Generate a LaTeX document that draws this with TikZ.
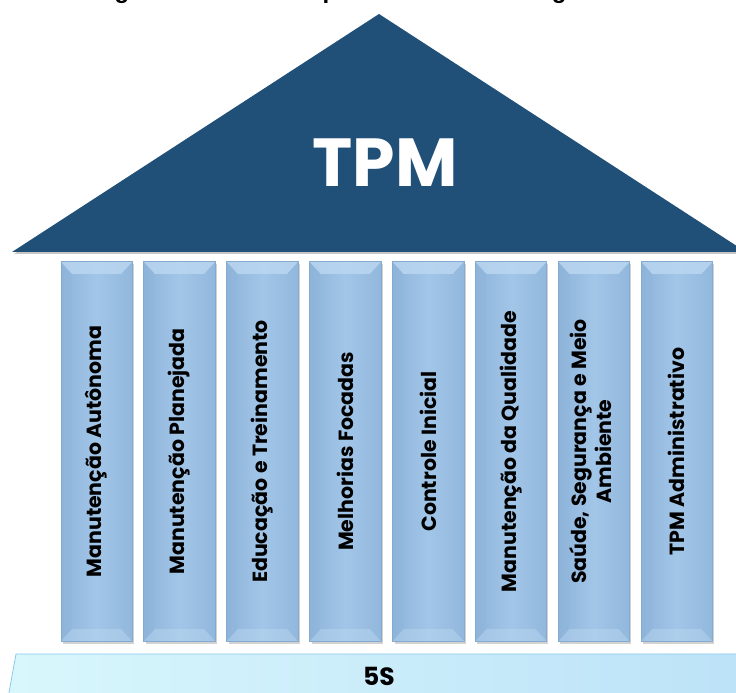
\documentclass[tikz,border=0pt]{standalone}
\usepackage{fontspec}
\setmainfont{Poppins}
\newfontfamily\legendafont{Liberation Sans}

\definecolor{azulTelhado}{RGB}{32,79,120}
\definecolor{azulPilar}{RGB}{162,198,232}
\definecolor{azulPilarEsc}{RGB}{142,180,218}
\definecolor{azulChanfro}{RGB}{188,216,241}
\definecolor{bordaPilar}{RGB}{132,170,208}
\definecolor{cianoBase}{RGB}{216,247,252}
\definecolor{azulBase}{RGB}{188,226,248}
\definecolor{bordaBase}{RGB}{140,200,236}

\tikzset{
  pilar/.style={rectangle, minimum width=71, minimum height=379, inner sep=0pt,
    left color=azulPilarEsc, right color=azulPilarEsc!80!azulPilar, middle color=azulPilar,
    font=\fontsize{20.5}{25}\selectfont\bfseries, text=black},
  chanfro/.style={fill=azulChanfro, opacity=0.8},
  lateral/.style={fill=azulPilarEsc, opacity=0.3}
}

% chanfros e borda de cada pilar
\newcommand{\chanfro}[1]{
  \fill[chanfro] (#1.north west) -- (#1.north east) -- ([shift={(-11,-12)}]#1.north east) -- ([shift={(11,-12)}]#1.north west) -- cycle;
  \fill[chanfro, opacity=0.45] (#1.south west) -- (#1.south east) -- ([shift={(-11,12)}]#1.south east) -- ([shift={(11,12)}]#1.south west) -- cycle;
  \fill[lateral] (#1.north west) -- ([shift={(11,-12)}]#1.north west) -- ([shift={(11,12)}]#1.south west) -- (#1.south west) -- cycle;
  \draw[bordaPilar, line width=0.6pt] (#1.north west) rectangle (#1.south east);
}

\begin{document}
\begin{tikzpicture}[x=1pt, y=1pt]
        \clip (0,0) rectangle (736,693);
        \useasboundingbox (0,0) rectangle (736,693);

        % Legenda (cortada no topo)
        \node[anchor=base west, inner sep=0pt, font=\legendafont\bfseries\fontsize{24}{24}\selectfont] (legenda) at (93,694.5) {Figura 1 – Conceito prático da metodologia};

        % Telhado
        \fill[gray!45] (14,439) -- (379,677) -- (748,439) -- cycle;
        \fill[azulTelhado] (12,441) -- (379,679) -- (746,441) -- cycle;
        \node[text=white, font=\fontsize{68}{68}\selectfont\bfseries] (tpm) at (385,530) {TPM};

        % Sombras dos pilares
        \fill[gray!35] (63,49) rectangle (134,429);
        \fill[gray!35] (146,49) rectangle (217,429);
        \fill[gray!35] (229,49) rectangle (300,429);
        \fill[gray!35] (312,49) rectangle (383,429);
        \fill[gray!35] (395,49) rectangle (466,429);
        \fill[gray!35] (477,49) rectangle (548,429);
        \fill[gray!35] (560,49) rectangle (631,429);
        \fill[gray!35] (643,49) rectangle (714,429);

        % Pilares
        \node[pilar] (p1) at (96.5,241.5) {\rotatebox{90}{Manutenção Autônoma}};
        \node[pilar] (p2) at (179.4,241.5) {\rotatebox{90}{Manutenção Planejada}};
        \node[pilar] (p3) at (262.3,241.5) {\rotatebox{90}{Educação e Treinamento}};
        \node[pilar] (p4) at (345.2,241.5) {\rotatebox{90}{Melhorias Focadas}};
        \node[pilar] (p5) at (428.1,241.5) {\rotatebox{90}{Controle Inicial}};
        \node[pilar] (p6) at (511.0,241.5) {\rotatebox{90}{Manutenção da Qualidade}};
        \node[pilar] (p7) at (593.9,241.5) {\rotatebox{90}{\begin{tabular}{@{}c@{}}Saúde, Segurança e Meio\\ Ambiente\end{tabular}}};
        \node[pilar] (p8) at (676.8,241.5) {\rotatebox{90}{TPM Administrativo}};

        \chanfro{p1}
        \chanfro{p2}
        \chanfro{p3}
        \chanfro{p4}
        \chanfro{p5}
        \chanfro{p6}
        \chanfro{p7}
        \chanfro{p8}

        % Base 5S
        \shade[left color=cianoBase, right color=azulBase] (16,39) -- (760,39) -- (760,-5) -- (8,-5) -- cycle;
        \draw[bordaBase, line width=0.8pt] (8,-5) -- (16,39) -- (760,39);
        \node[inner sep=0pt, font=\fontsize{25}{25}\selectfont\bfseries] (cincoS) at (379,17) {5S};
    \end{tikzpicture}
\end{document}
